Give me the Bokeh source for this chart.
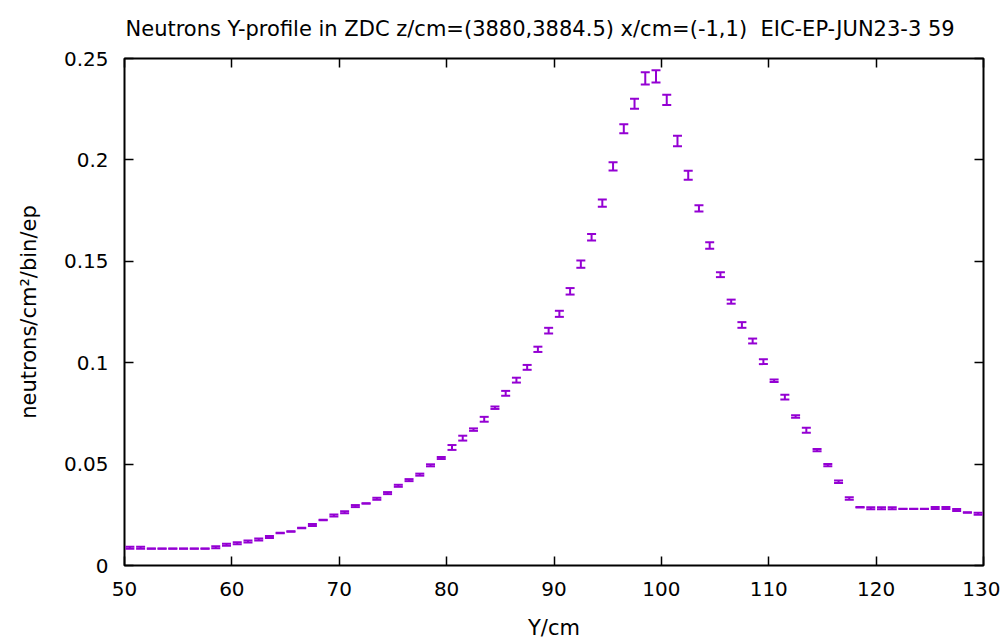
from bokeh.plotting import figure
from bokeh.models import LinearAxis, Range1d, FixedTicker
from bokeh.embed import file_html
from bokeh.resources import INLINE

# ---- data (bin centres in cm, neutron density, error) ----
y_cm = [50.5 + i for i in range(80)]
dens = [0.0088, 0.0088, 0.0083, 0.0083, 0.0083, 0.0083, 0.0083, 0.0083, 0.0090, 0.0102,
        0.0110, 0.0118, 0.0128, 0.0141, 0.0160, 0.0168, 0.0185, 0.0200, 0.0224, 0.0247,
        0.0263, 0.0293, 0.0306, 0.0329, 0.0357, 0.0393, 0.0421, 0.0448, 0.0494, 0.0530,
        0.0582, 0.0628, 0.0670, 0.0721, 0.0778, 0.0849, 0.0914, 0.0977, 0.1066, 0.1158,
        0.1241, 0.1352, 0.1486, 0.1619, 0.1787, 0.1968, 0.2154, 0.2277, 0.2402, 0.2412,
        0.2296, 0.2093, 0.1924, 0.1761, 0.1578, 0.1434, 0.1301, 0.1186, 0.1107, 0.1005,
        0.0911, 0.0830, 0.0735, 0.0667, 0.0569, 0.0495, 0.0413, 0.0330, 0.0287, 0.0282,
        0.0282, 0.0282, 0.0279, 0.0279, 0.0279, 0.0284, 0.0284, 0.0274, 0.0261, 0.0255]
err = [0.0005, 0.0005, 0.0001, 0.0001, 0.0001, 0.0001, 0.0001, 0.0001, 0.0005, 0.0005,
       0.0005, 0.0005, 0.0005, 0.0005, 0.0001, 0.0001, 0.0001, 0.0005, 0.0001, 0.0005,
       0.0005, 0.0005, 0.0001, 0.0005, 0.0005, 0.0005, 0.0005, 0.0005, 0.0005, 0.0005,
       0.0012, 0.0012, 0.0006, 0.0012, 0.0006, 0.0012, 0.0012, 0.0012, 0.0013, 0.0014,
       0.0015, 0.0016, 0.0018, 0.0016, 0.0018, 0.0020, 0.0022, 0.0025, 0.0030, 0.0030,
       0.0025, 0.0026, 0.0022, 0.0015, 0.0016, 0.0012, 0.0010, 0.0014, 0.0012, 0.0012,
       0.0006, 0.0012, 0.0006, 0.0012, 0.0006, 0.0006, 0.0006, 0.0006, 0.0001, 0.0005,
       0.0005, 0.0005, 0.0001, 0.0001, 0.0001, 0.0005, 0.0005, 0.0005, 0.0001, 0.0005]
x_ticks = [50, 60, 70, 80, 90, 100, 110, 120, 130]
y_ticks = [0, 0.05, 0.1, 0.15, 0.2, 0.25]
y_tick_labels = {0: "0", 0.05: "0.05", 0.1: "0.1", 0.15: "0.15", 0.2: "0.2", 0.25: "0.25"}

title = "Neutrons Y-profile in ZDC z/cm=(3880,3884.5) x/cm=(-1,1)\u00a0 EIC-EP-JUN23-3 59"
COLOR = "#9400d3"
FONT = "DejaVu Sans"
FS = "20px"
FS_LABEL = "21px"

p = figure(width=1000, height=642, output_backend="svg", toolbar_location=None,
           x_range=Range1d(50, 130), y_range=Range1d(0, 0.25),
           x_axis_label="Y/cm", y_axis_label="neutrons/cm²/bin/ep")
p.min_border_left = 124
p.min_border_right = 17
p.min_border_top = 58
p.min_border_bottom = 76
p.xgrid.visible = False
p.ygrid.visible = False
p.outline_line_color = "black"
p.outline_line_width = 2
p.background_fill_color = "white"
p.border_fill_color = "white"

p.title.text = title
p.title.align = "left"
p.title.offset = 1
p.title.vertical_align = "top"
p.title.text_font = FONT
p.title.text_font_size = FS_LABEL
p.title.text_font_style = "normal"
p.title.text_color = "black"
p.title.standoff = 31

lo = [d - e for d, e in zip(dens, err)]
hi = [d + e for d, e in zip(dens, err)]
p.segment(x0=y_cm, y0=lo, x1=y_cm, y1=hi, line_color=COLOR, line_width=2)
p.dash(x=y_cm, y=lo, size=9, line_color=COLOR, line_width=2)
p.dash(x=y_cm, y=hi, size=9, line_color=COLOR, line_width=2)

def style(ax, labels=True):
    ax.axis_line_color = None
    ax.major_tick_in = 9
    ax.major_tick_out = 0
    ax.minor_tick_in = 0
    ax.minor_tick_out = 0
    ax.major_tick_line_color = "black"
    ax.major_tick_line_width = 1.5
    ax.major_label_text_font = FONT
    if labels:
        ax.major_label_text_font_size = FS
        ax.major_label_text_color = "black"
    else:
        ax.major_label_text_font_size = "1px"
        ax.major_label_text_color = None
        ax.major_label_standoff = 0
    ax.axis_label_text_font = FONT
    ax.axis_label_text_font_size = FS_LABEL
    ax.axis_label_text_font_style = "normal"
    ax.axis_label_text_color = "black"

xa = p.xaxis[0]
xa.ticker = FixedTicker(ticks=x_ticks)
style(xa)
xa.major_label_standoff = 16
xa.axis_label_standoff = 17
xa.major_label_text_line_height = 0.8
xa.axis_label_text_line_height = 0.8

ya = p.yaxis[0]
ya.ticker = FixedTicker(ticks=y_ticks)
ya.major_label_overrides = y_tick_labels
style(ya)
ya.major_label_standoff = 16
ya.axis_label_standoff = 20

top = LinearAxis(ticker=FixedTicker(ticks=x_ticks))
style(top, labels=False)
p.add_layout(top, "above")
right = LinearAxis(ticker=FixedTicker(ticks=y_ticks))
style(right, labels=False)
p.add_layout(right, "right")

open("out.html", "w").write(file_html(p, INLINE))
